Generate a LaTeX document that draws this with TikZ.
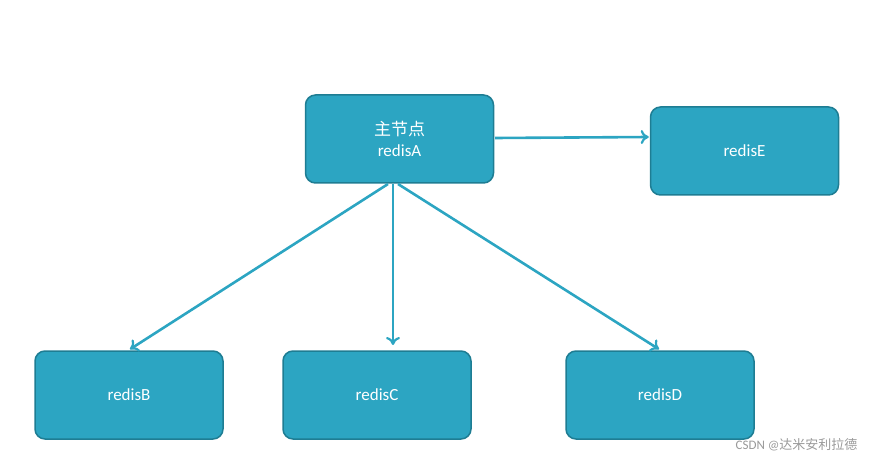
\documentclass[tikz,border=0pt]{standalone}
\usepackage{fontspec}
\setmainfont{Carlito}
\newfontfamily\cjk{Noto Sans CJK SC}
\usetikzlibrary{calc,arrows.meta}
\definecolor{boxfill}{HTML}{2CA5C2}
\definecolor{boxline}{HTML}{1E7D93}
\begin{document}
\begin{tikzpicture}[x=1pt,y=-1pt,
  box/.style={draw=boxline,line width=1.5pt,fill=boxfill,rounded corners=10pt,minimum width=188pt,minimum height=88pt,text=white,font=\fontsize{17}{21}\selectfont,align=center,inner sep=0pt},
  conn/.style={draw=boxfill,line width=2.6pt,-{To[length=8pt,width=14pt,line width=2.2pt]}}]
\useasboundingbox (0,0) rectangle (875,465);
\node[box] (A) at (399.5,139) {{\cjk 主节点}\\redisA};
\node[box] (E) at (744.5,151) {redisE};
\node[box] (B) at (129,395) {redisB};
\node[box] (C) at (377,395) {redisC};
\node[box] (D) at (660,395) {redisD};
\coordinate (a1) at (388,184);
\coordinate (a2) at (393,184);
\coordinate (a3) at (398,184);
\coordinate (cT) at (393,345);
\coordinate (aR) at (495,138);
\draw[conn] (a1) -- ($(B.north)+(1,-1)$);
\draw[conn] (a2) -- (cT);
\draw[conn] (a3) -- ($(D.north)+(-1,-1)$);
\draw[conn] (aR) -- ($(E.west)+(-1,-14)$);
\node[text=gray!80,font=\fontsize{13}{15}\selectfont,anchor=east] (w) at (861,445) {CSDN @{\cjk 达米安利拉德}};
\end{tikzpicture}
\end{document}
